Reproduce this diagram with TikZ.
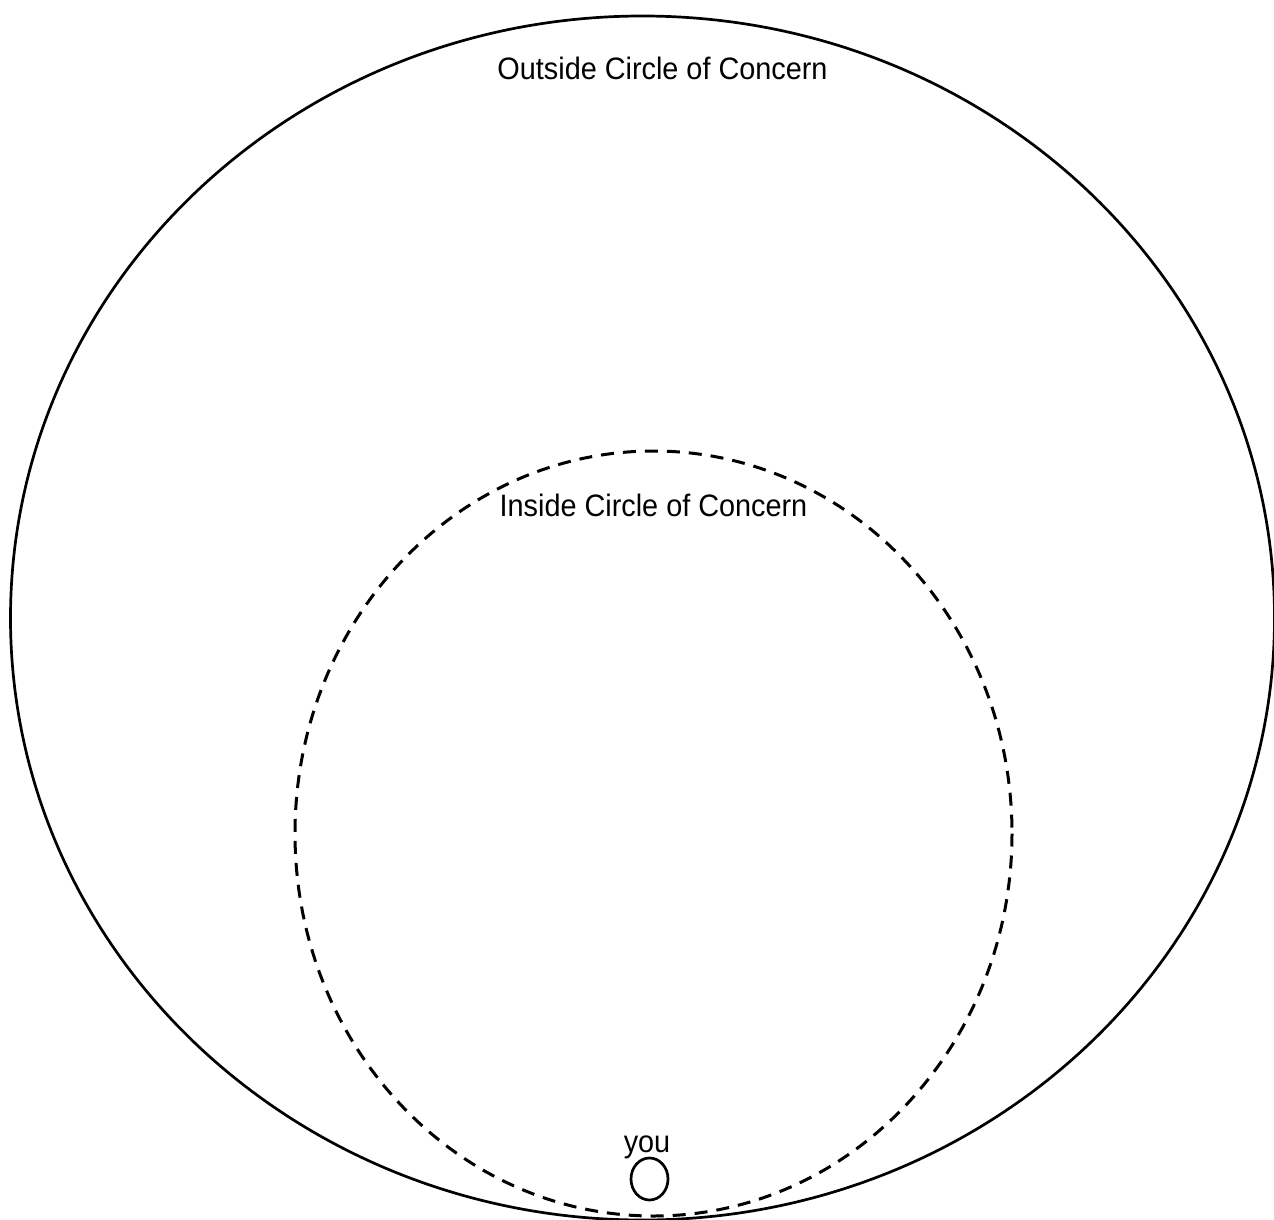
\documentclass[tikz,border=0pt]{standalone}
\usepackage{fontspec}
\setmainfont{Liberation Sans}
\newcommand{\narrow}[1]{\scalebox{0.93}[1]{#1}}
\begin{document}
\begin{tikzpicture}[
  x=0.5pt,y=-0.5pt,
  ring/.style={line width=1.35pt},
  dashring/.style={line width=1.5pt,dash pattern=on 6.5pt off 4.5pt},
  label/.style={font=\fontsize{15.5}{18}\selectfont,inner sep=0pt,anchor=base}
]
\useasboundingbox (0,0) rectangle (1274,1220);
\draw[ring] (642.5,618) ellipse (632 and 602);
\draw[dashring] (653.5,833.5) ellipse (358.5 and 382.5);
\draw[ring] (649.5,1179) ellipse (18.5 and 21);

\node[label] (outsidetxt) at (662.5,80) {\narrow{Outside Circle of Concern}};
\node[label] (insidetxt) at (653.5,516) {\narrow{Inside Circle of Concern}};
\node[label] (youtxt) at (647,1152) {\narrow{you}};
\end{tikzpicture}
\end{document}
